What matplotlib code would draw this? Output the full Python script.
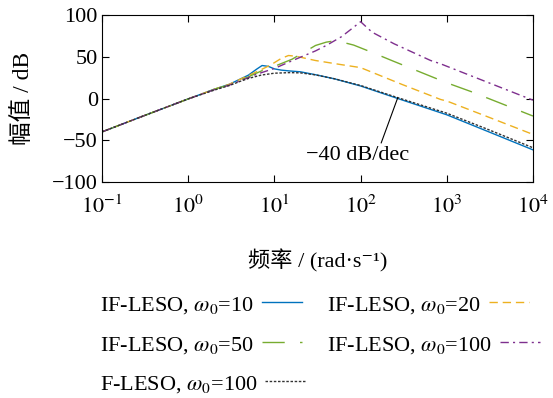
import matplotlib
matplotlib.use("Agg")
import matplotlib.pyplot as plt

plt.rcParams['font.family'] = ['Liberation Serif', 'Noto Sans CJK SC', 'DejaVu Serif']
plt.rcParams['mathtext.fontset'] = 'stix'
plt.rcParams['axes.unicode_minus'] = True

# values (frequency in rad/s, magnitude in dB)
f_w10 = [0.1, 0.3, 1, 2, 3, 5, 6.2, 7.2, 8.5, 10, 12, 15, 20, 30, 50, 100, 270, 1000, 3000, 10000]
db_w10 = [-40, -21, -0.5, 11, 17, 28, 35, 39.5, 38.5, 35.5, 34, 33, 32, 28.5, 23.5, 15, 0, -19.5, -39.5, -61.5]

f_w20 = [0.1, 0.3, 1, 2, 3, 5, 7, 9, 12, 14.6, 18, 30, 58.5, 100, 300, 850, 1000, 3000, 10000]
db_w20 = [-40, -21, -0.5, 11, 17, 27.5, 34.5, 40, 48, 51.5, 50.5, 45.5, 40.7, 37, 17, -1.2, -3, -22, -43]

f_w50 = [0.1, 0.3, 1, 2, 3, 5, 8, 10, 16, 30, 40, 47, 58.5, 83, 130, 240, 1000, 1900, 10000]
db_w50 = [-40, -21, -0.5, 11, 16.5, 26, 35.5, 38.5, 47, 63.5, 67.5, 68.6, 68, 64, 56, 44.7, 18.8, 8.4, -21]

f_w100 = [0.1, 0.3, 1, 2, 3, 5, 6.2, 10, 16.7, 30, 40.8, 60, 80, 100, 136, 245, 650, 850, 10000]
db_w100 = [-40, -21, -0.5, 10.5, 16, 25, 29, 36, 46, 57, 64, 74, 84, 92, 79.4, 65.5, 45.5, 41.5, -2]

f_fleso = [0.1, 0.3, 1, 2, 3, 4, 5, 7, 10, 15, 20, 30, 50, 100, 270, 1000, 3000, 10000]
db_fleso = [-40, -21, -0.5, 10, 15.5, 20.5, 24, 28, 30.3, 31, 30.7, 28.3, 23.6, 15.6, 1, -17.6, -37, -59]

labels = [r'IF-LESO, $\omega_0$=10', r'IF-LESO, $\omega_0$=20', r'IF-LESO, $\omega_0$=50',
          r'IF-LESO, $\omega_0$=100', r'F-LESO, $\omega_0$=100']

FS = 16
W, H = 553, 398

fig = plt.figure(figsize=(5.53, 3.98), dpi=100)
ax = fig.add_axes([0.1844, 0.5427, 0.7794, 0.4196])

l1, = ax.plot(f_w10, db_w10, color='#0072BD', lw=1.0)
l2, = ax.plot(f_w20, db_w20, color='#EDB120', lw=1.0, dashes=[6, 3.5])
l3, = ax.plot(f_w50, db_w50, color='#77AC30', lw=1.0, dashes=[16, 11])
l4, = ax.plot(f_w100, db_w100, color='#7E2F8E', lw=1.0, dashes=[6, 3, 1.5, 3])
l5, = ax.plot(f_fleso, db_fleso, color='#333333', lw=1.0, dashes=[1.8, 1.2])

ax.set_xscale('log')
ax.set_xlim(0.1, 1e4)
ax.set_ylim(-100, 100)
ax.set_xticks([0.1, 1, 10, 100, 1000, 10000])
ax.set_xticklabels([r'$10^{-1}$', r'$10^{0}$', r'$10^{1}$', r'$10^{2}$', r'$10^{3}$', r'$10^{4}$'])
ax.set_yticks([-100, -50, 0, 50, 100])
ax.minorticks_off()
ax.tick_params(direction='in', top=True, right=True, labelsize=FS, length=5)
ax.tick_params(axis='x', pad=10)
ax.tick_params(axis='y', pad=3)

ax.set_xlabel('频率 / (rad·s⁻¹)', fontsize=FS, labelpad=22)
ax.set_ylabel('幅值 / dB', fontsize=17, labelpad=13)

ax.annotate('−40 dB/dec', xy=(270, 1), xytext=(92, -68), ha='center', va='center',
            fontsize=FS,
            arrowprops=dict(arrowstyle='-', color='k', lw=0.8, relpos=(0.72, 1.0),
                            shrinkA=0, shrinkB=0))

# legend entries laid out one by one: text left, line right
entries = [(l1, labels[0], 100, 305), (l2, labels[1], 327, 305),
           (l3, labels[2], 100, 345), (l4, labels[3], 327, 345),
           (l5, labels[4], 100, 384)]
for line, text, px, py in entries:
    fig.legend([line], [text], loc='center left', bbox_to_anchor=(px / W, 1 - py / H),
               frameon=False, markerfirst=False, fontsize=FS, handlelength=1.8,
               handletextpad=0.35, borderpad=0, borderaxespad=0)

fig.savefig('out.png', dpi=100)
